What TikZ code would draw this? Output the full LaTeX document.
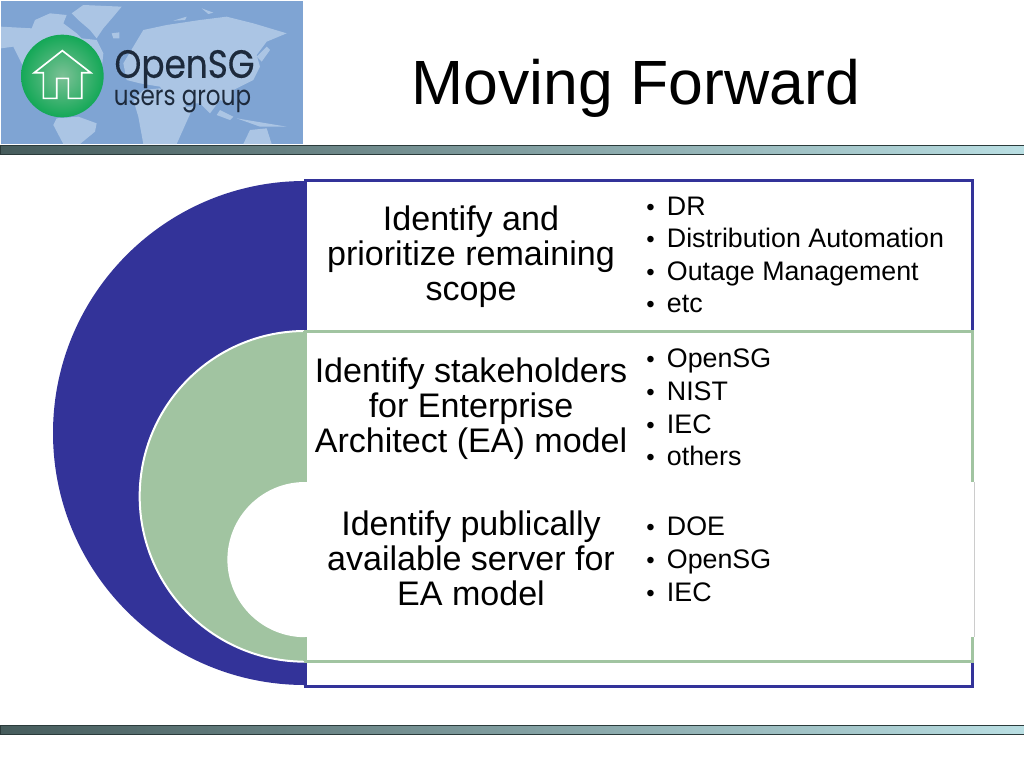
\documentclass[tikz,border=0pt]{standalone}
\usepackage{fontspec}
\setmainfont{Liberation Sans}
\newfontfamily\logofont[FakeBold=0.4]{Poppins}
\newfontfamily\logolight{Poppins}
\usetikzlibrary{shadings}
\definecolor{navyfill}{HTML}{333399}
\definecolor{sage}{HTML}{A1C4A1}
\definecolor{mapsea}{HTML}{7FA4D3}
\definecolor{mapland}{HTML}{ABC5E4}
\definecolor{bardark}{HTML}{465C5C}
\definecolor{barlight}{HTML}{BADFE3}
\definecolor{barline}{HTML}{2B3B3B}
\definecolor{logoink}{HTML}{1D2A3C}
\definecolor{logogreen}{HTML}{14A857}
\definecolor{logomid}{HTML}{7CC196}
\tikzset{
  x=0.75pt,y=-0.75pt,
  rulebar/.style={draw=barline,line width=0.75pt,left color=bardark,right color=barlight},
  land/.style={fill=mapland,draw=none},
  head/.style={align=center,font=\fontsize{25.55}{26.3}\selectfont,inner sep=0pt,text=black},
  points/.style={align=left,anchor=north west,font=\fontsize{20.1}{24.4}\selectfont,inner sep=0pt,text=black},
}
\newcommand{\itm}[1]{\makebox[15.5pt][l]{\fontsize{18}{18}\selectfont •}#1}
\begin{document}
\begin{tikzpicture}
\useasboundingbox (0,0) rectangle (1024,768);
\fill[white] (0,0) rectangle (1024,768);
% logo
\fill[mapsea] (1,1) rectangle (303,144);
\begin{scope}[x=0.25pt,y=-0.25pt]
\clip (3,3) rectangle (909,432);
\fill[land] (3,80) -- (95,85) -- (105,60) -- (150,40) -- (200,45) -- (190,70) -- (230,100) -- (245,115) -- (290,120) -- (310,160) -- (300,260) -- (180,340) -- (65,190) -- (40,140) -- (3,145) -- cycle;
\fill[land] (215,40) -- (250,15) -- (365,20) -- (340,50) -- (310,85) -- (290,115) -- (270,90) -- (235,60) -- cycle;
\fill[land] (170,355) -- (235,350) -- (290,370) -- (285,395) -- (240,432) -- (190,432) -- (160,375) -- cycle;
\fill[land] (335,100) -- (358,97) -- (358,115) -- (340,115) -- cycle;
\fill[land] (400,140) -- (430,90) -- (500,75) -- (600,60) -- (680,50) -- (760,70) -- (860,100) -- (800,125) -- (770,165) -- (780,200) -- (760,240) -- (700,270) -- (690,310) -- (660,300) -- (630,340) -- (600,310) -- (560,310) -- (540,350) -- (480,260) -- (420,250) -- (380,240) -- (370,190) -- cycle;
\fill[land] (400,300) -- (430,270) -- (480,265) -- (530,320) -- (580,320) -- (530,432) -- (430,432) -- (415,350) -- cycle;
\fill[land] (660,330) -- (700,350) -- (690,360) -- (650,345) -- cycle;
\fill[land] (710,355) -- (770,365) -- (860,380) -- (780,380) -- cycle;
\fill[land] (730,432) -- (750,390) -- (800,385) -- (815,432) -- cycle;
\fill[land] (520,62) -- (560,50) -- (555,60) -- cycle;
\fill[land] (605,25) -- (640,38) -- (625,42) -- cycle;
\fill[land] (770,170) -- (800,140) -- (810,150) -- (785,185) -- cycle;
\shade[inner color=logomid,outer color=logogreen] (187,228) circle (31pt) coordinate (badge);
\draw[white,line width=1.25pt,line join=miter] (103,218) -- (187,152) -- (272,218) -- (245,218) -- (245,295) -- (205,295) -- (205,235) -- (170,235) -- (170,295) -- (130,295) -- (130,218) -- cycle;
\end{scope}
\node[inner sep=0pt,text=logoink,yscale=1.15] (logoa) at (184.5,69) {\logofont\fontsize{25.7}{28}\selectfont OpenSG};
\node[inner sep=0pt,text=logoink,yscale=1.2] (logob) at (182.5,102) {\logolight\fontsize{17.3}{20}\selectfont users group};
% title
\node[inner sep=0pt,font=\fontsize{46.9}{50}\selectfont] (title) at (636,88) {Moving Forward};
% rules
\shade[rulebar] (0,145) rectangle (1024,154);
\shade[rulebar] (0,725) rectangle (1024,734);
% diagram
\fill[navyfill] (305,181) arc[start angle=90,end angle=270,radius=189pt] -- cycle;
\draw[navyfill,line width=2.25pt,fill=white] (305,180) rectangle (972.5,686);
\fill[sage] (305,331) arc[start angle=90,end angle=270,radius=124pt] -- cycle;
\draw[white,line width=1.5pt] (305,331) arc[start angle=90,end angle=270,radius=124pt];
\draw[sage,line width=2.25pt] (304,331) -- (972.5,331) -- (972.5,661) -- (304,661);
\fill[sage] (303,331) rectangle (306.8,661);
\fill[white] (305,482) arc[start angle=90,end angle=270,radius=58.2pt] -- cycle;
\fill[white] (305,482) rectangle (974.5,637);
\draw[black!20,line width=0.5pt] (974.5,482) -- (974.5,637);
% text
\node[head] (h1) at (471,257) {Identify and\\prioritize remaining\\scope};
\node[head] (h2) at (471,409) {Identify stakeholders\\for Enterprise\\Architect (EA) model};
\node[head] (h3) at (471,558) {Identify publically\\available server for\\EA model};
\node[points] (p1) at (646,196.5) {\itm{DR}\\\itm{Distribution Automation}\\\itm{Outage Management}\\\itm{etc}};
\node[points] (p2) at (646,349) {\itm{OpenSG}\\\itm{NIST}\\\itm{IEC}\\\itm{others}};
\node[points] (p3) at (646,517) {\itm{DOE}\\\itm{OpenSG}\\\itm{IEC}};
\end{tikzpicture}
\end{document}
